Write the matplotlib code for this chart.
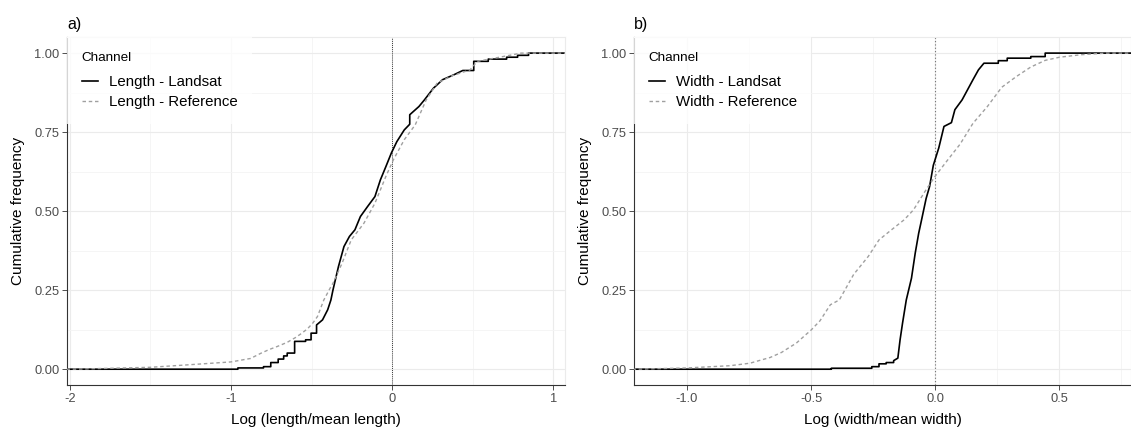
import matplotlib.pyplot as plt

plt.rcParams['font.family'] = ['Liberation Sans', 'DejaVu Sans']
plt.rcParams['axes.unicode_minus'] = False

# Traced ECDF paths: log(length / mean length)
len_landsat_x = [-2.02, -0.957, -0.957, -0.798, -0.798, -0.753, -0.753, -0.707, -0.707, -0.673,
                 -0.673, -0.651, -0.651, -0.605, -0.605, -0.537, -0.537, -0.503, -0.503, -0.469,
                 -0.469, -0.432, -0.40, -0.38, -0.367, -0.333, -0.299, -0.265, -0.231, -0.197,
                 -0.152, -0.107, -0.073, -0.039, -0.005, 0.029, 0.075, 0.109, 0.109, 0.166,
                 0.20, 0.256, 0.313, 0.381, 0.438, 0.506, 0.506, 0.596, 0.596, 0.710,
                 0.710, 0.778, 0.778, 0.846, 0.846, 1.08]
len_landsat_y = [0, 0, 0.004, 0.004, 0.008, 0.008, 0.021, 0.021, 0.032, 0.032,
                 0.042, 0.042, 0.051, 0.051, 0.088, 0.088, 0.093, 0.093, 0.114, 0.114,
                 0.14, 0.156, 0.188, 0.219, 0.251, 0.325, 0.388, 0.42, 0.441, 0.483,
                 0.515, 0.546, 0.599, 0.641, 0.684, 0.72, 0.757, 0.775, 0.805, 0.831,
                 0.852, 0.889, 0.916, 0.931, 0.945, 0.945, 0.974, 0.974, 0.981, 0.981,
                 0.987, 0.987, 0.993, 0.993, 1.0, 1.0]

len_ref_x = [-2.02, -1.9, -1.5, -1.29, -1.0, -0.878, -0.816, -0.764, -0.712, -0.651,
             -0.6, -0.56, -0.525, -0.492, -0.463, -0.424, -0.38, -0.367, -0.311, -0.254,
             -0.175, -0.107, -0.039, 0.007, 0.075, 0.143, 0.211, 0.279, 0.37, 0.483,
             0.528, 0.687, 0.8, 1.08]
len_ref_y = [0, 0.001, 0.006, 0.013, 0.023, 0.034, 0.05, 0.062, 0.072, 0.085,
             0.1, 0.114, 0.128, 0.146, 0.167, 0.219, 0.261, 0.272, 0.335, 0.409,
             0.462, 0.525, 0.61, 0.662, 0.726, 0.773, 0.852, 0.905, 0.928, 0.947,
             0.974, 0.989, 1.0, 1.0]

# Traced ECDF paths: log(width / mean width)
wid_landsat_x = [-1.22, -0.418, -0.418, -0.255, -0.255, -0.226, -0.226, -0.197, -0.197, -0.167,
                 -0.167, -0.150, -0.141, -0.131, -0.116, -0.095, -0.080, -0.066, -0.055, -0.036,
                 -0.022, -0.007, 0.015, 0.036, 0.066, 0.080, 0.109, 0.131, 0.153, 0.175,
                 0.197, 0.255, 0.255, 0.291, 0.291, 0.386, 0.386, 0.444, 0.444, 0.80]
wid_landsat_y = [0, 0, 0.003, 0.003, 0.008, 0.008, 0.017, 0.017, 0.021, 0.021,
                 0.027, 0.035, 0.093, 0.146, 0.219, 0.288, 0.367, 0.43, 0.47, 0.54,
                 0.578, 0.645, 0.70, 0.768, 0.78, 0.821, 0.852, 0.884, 0.916, 0.947,
                 0.968, 0.968, 0.976, 0.976, 0.984, 0.984, 0.989, 0.989, 1.0, 1.0]

wid_ref_x = [-1.22, -1.1, -1.0, -0.827, -0.746, -0.706, -0.665, -0.619, -0.585, -0.56,
             -0.517, -0.502, -0.464, -0.422, -0.386, -0.328, -0.269, -0.226, -0.182, -0.124,
             -0.087, -0.036, 0.0, 0.051, 0.101, 0.153, 0.211, 0.269, 0.328, 0.386,
             0.444, 0.502, 0.59, 0.69, 0.80]
wid_ref_y = [0, 0.002, 0.004, 0.011, 0.019, 0.028, 0.037, 0.053, 0.070, 0.082,
             0.112, 0.122, 0.153, 0.204, 0.219, 0.300, 0.357, 0.409, 0.437, 0.473,
             0.504, 0.568, 0.610, 0.662, 0.712, 0.778, 0.831, 0.892, 0.926, 0.956,
             0.977, 0.987, 0.995, 1.0, 1.0]

y_ticks = [0.0, 0.25, 0.5, 0.75, 1.0]
y_ticklabels = ['0.00', '0.25', '0.50', '0.75', '1.00']
y_minor = [0.125, 0.375, 0.625, 0.875]

W, H = 1131, 429
fig = plt.figure(figsize=(W / 100, H / 100), dpi=100)
ax_a = fig.add_axes([67.3 / W, 44 / H, (565 - 67.3) / W, 347.7 / H])
ax_b = fig.add_axes([634.3 / W, 44 / H, (W - 634.3) / W, 347.7 / H])


def style_panel(ax, xlim, xticks, xticklabels, xminor, xlabel, title):
    ax.set_xlim(*xlim)
    ax.set_ylim(-0.05, 1.05)
    ax.set_xticks(xticks)
    ax.set_xticklabels(xticklabels)
    ax.set_xticks(xminor, minor=True)
    ax.set_yticks(y_ticks)
    ax.set_yticklabels(y_ticklabels)
    ax.set_yticks(y_minor, minor=True)
    ax.tick_params(which='major', length=3.5, width=0.6, color='#333333',
                   labelcolor='#4D4D4D', labelsize=9.3, pad=2)
    ax.tick_params(which='minor', length=0)
    ax.grid(which='major', color='#EBEBEB', lw=0.8, zorder=0)
    ax.grid(which='minor', color='#F4F4F4', lw=0.6, zorder=0)
    ax.set_axisbelow(True)
    for side in ['left', 'bottom']:
        ax.spines[side].set_color('#333333')
        ax.spines[side].set_linewidth(0.8)
    for side in ['top', 'right']:
        ax.spines[side].set_color('#EBEBEB')
        ax.spines[side].set_linewidth(0.8)
    ax.set_xlabel(xlabel, fontsize=11)
    ax.xaxis.set_label_coords(0.5, -0.1007)
    ax.xaxis.label.set_va('center')
    ax.set_ylabel('Cumulative frequency', fontsize=11)
    ax.yaxis.set_label_coords(-0.100, 0.5)
    ax.yaxis.label.set_va('center')
    ax.set_title(title, loc='left', fontsize=11.5, pad=6)


def add_legend(ax):
    leg = ax.legend(loc='upper left', bbox_to_anchor=(0, 1), borderaxespad=0,
                    frameon=True, fancybox=False, title='Channel',
                    fontsize=10.8, title_fontsize=9.7, handlelength=1.1,
                    handletextpad=0.7, borderpad=0.95, labelspacing=0.4,
                    alignment='left')
    # a bit more room between the title and the entries
    leg._legend_box.sep = 8.5
    leg.get_frame().set_facecolor('white')
    leg.get_frame().set_edgecolor('white')
    leg.get_frame().set_linewidth(0)


# a) length
ax_a.plot(len_landsat_x, len_landsat_y, color='black', lw=1.2, label='Length - Landsat', zorder=3)
ax_a.plot(len_ref_x, len_ref_y, color='#A0A0A0', lw=1.0, ls=(0, (2.5, 2)),
          label='Length - Reference', zorder=4)
ax_a.axvline(0, color='black', lw=0.6, ls=(0, (1, 1.5)), zorder=2)
style_panel(ax_a, (-2.015, 1.072), [-2, -1, 0, 1], ['-2', '-1', '0', '1'],
            [-1.5, -0.5, 0.5], 'Log (length/mean length)', 'a)')
add_legend(ax_a)

# b) width
ax_b.plot(wid_landsat_x, wid_landsat_y, color='black', lw=1.2, label='Width - Landsat', zorder=3)
ax_b.plot(wid_ref_x, wid_ref_y, color='#A0A0A0', lw=1.0, ls=(0, (2.5, 2)),
          label='Width - Reference', zorder=4)
ax_b.axvline(0, color='#707070', lw=0.8, ls=(0, (1, 2)), zorder=2)
style_panel(ax_b, (-1.2125, 0.79), [-1.0, -0.5, 0.0, 0.5], ['-1.0', '-0.5', '0.0', '0.5'],
            [-0.75, -0.25, 0.25, 0.75], 'Log (width/mean width)', 'b)')
add_legend(ax_b)

fig.savefig('out.png', dpi=100)
